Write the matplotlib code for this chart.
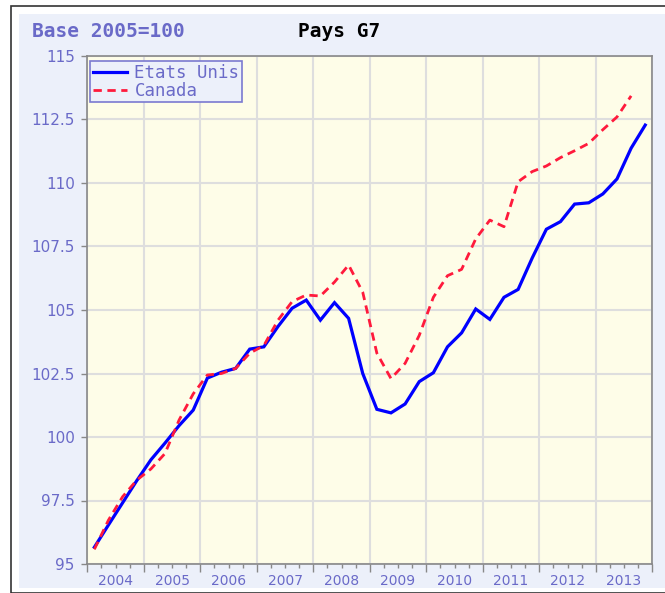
import matplotlib

matplotlib.use("Agg")
import matplotlib.pyplot as plt
from matplotlib.patches import Rectangle
from matplotlib.ticker import FixedLocator, FixedFormatter
import numpy as np

# quarterly index, base 2005=100
years = list(range(2004, 2014))
etats_unis = [
    95.66, 96.54, 97.41, 98.28,
    99.10, 99.76, 100.45, 101.06,
    102.32, 102.55, 102.70, 103.46,
    103.55, 104.35, 105.07, 105.39,
    104.60, 105.29, 104.67, 102.50,
    101.09, 100.95, 101.30, 102.18,
    102.53, 103.55, 104.10, 105.04,
    104.63, 105.50, 105.81, 107.05,
    108.18, 108.48, 109.17, 109.22,
    109.57, 110.16, 111.37, 112.28,
]
canada = [
    95.58, 96.73, 97.65, 98.30,
    98.74, 99.35, 100.67, 101.70,
    102.44, 102.50, 102.70, 103.30,
    103.60, 104.60, 105.33, 105.59,
    105.55, 106.10, 106.77, 105.70,
    103.30, 102.30, 102.90, 104.00,
    105.50, 106.35, 106.60, 107.80,
    108.54, 108.28, 110.05, 110.45,
    110.67, 111.00, 111.27, 111.56,
    112.10, 112.60, 113.43,
]
y_ticks = [95, 97.5, 100, 102.5, 105, 107.5, 110, 112.5, 115]
y_tick_labels = ["95", "97.5", "100", "102.5", "105", "107.5", "110", "112.5", "115"]

LABEL = "#6A6AC8"
PANEL = "#ECF0FA"
PLOT_BG = "#FEFDE8"
GRID = "#DEDEDE"

# x position of each quarter: middle of the quarter
x_us = [years[0] + (i + 0.5) / 4 for i in range(len(etats_unis))]
x_ca = [years[0] + (i + 0.5) / 4 for i in range(len(canada))]

fig = plt.figure(figsize=(6.65, 5.93), dpi=100)
fig.patch.set_facecolor("white")
W, H = 665.0, 593.0

# outer frame and light panel (behind the axes)
fig.patches.append(Rectangle((11 / W, 0), 1, 1 - 6 / H, transform=fig.transFigure,
                             facecolor="none", edgecolor="#333333", lw=1.2,
                             zorder=-2))
fig.patches.append(Rectangle((19 / W, 1 - 588 / H), 1, (588 - 14) / H,
                             transform=fig.transFigure, facecolor=PANEL,
                             edgecolor="none", zorder=-1))

left, right, top, bottom = 87.3, 652.3, 56.0, 564.0
ax = fig.add_axes([left / W, 1 - bottom / H, (right - left) / W, (bottom - top) / H])
ax.set_facecolor(PLOT_BG)

ax.plot(x_us, etats_unis, color="#0000FF", lw=2.3, label="Etats Unis",
        solid_joinstyle="miter")
ax.plot(x_ca, canada, color="#FF1A3C", lw=2.0, linestyle=(0, (3, 2)),
        label="Canada")

ax.set_xlim(years[0], years[-1] + 1)
ax.set_ylim(95, 115)

# year boundaries: major ticks + grid, quarters: minor ticks, labels mid-year
majors = list(range(years[0], years[-1] + 2))
minors = [y + q / 4 for y in years for q in (1, 2, 3)]
minor_labels = [str(int(m)) if abs(m % 1 - 0.5) < 1e-9 else "" for m in minors]
ax.xaxis.set_major_locator(FixedLocator(majors))
ax.xaxis.set_major_formatter(FixedFormatter([""] * len(majors)))
ax.xaxis.set_minor_locator(FixedLocator(minors))
ax.xaxis.set_minor_formatter(FixedFormatter(minor_labels))
ax.tick_params(axis="x", which="major", length=6, color="#888888", width=1)
ax.tick_params(axis="x", which="minor", length=3, color="#888888", width=1,
               labelsize=10, labelcolor=LABEL, pad=4)

ax.set_yticks(y_ticks)
ax.set_yticklabels(y_tick_labels)
ax.tick_params(axis="y", length=4, color="#888888", width=1, labelsize=11,
               labelcolor=LABEL, pad=5)

ax.grid(True, which="major", color=GRID, lw=1.5)
ax.set_axisbelow(True)
for s in ax.spines.values():
    s.set_color("#888888")
    s.set_linewidth(1.2)

fig.text(32 / W, 1 - 31.5 / H, "Base 2005=100", color=LABEL, fontsize=14,
         family="DejaVu Sans Mono", weight="bold", va="center", ha="left")
fig.text(298 / W, 1 - 31.5 / H, "Pays G7", color="black", fontsize=14,
         family="DejaVu Sans Mono", weight="bold", va="center", ha="left")

leg = ax.legend(loc="upper left", bbox_to_anchor=(0.005, 0.99), borderaxespad=0,
                borderpad=0.15, labelspacing=0.0, handlelength=2.0,
                handletextpad=0.4, fancybox=False, framealpha=1,
                prop={"family": "DejaVu Sans Mono", "size": 12.5})
leg.get_frame().set_edgecolor("#7A7AD0")
leg.get_frame().set_facecolor(PANEL)
leg.get_frame().set_linewidth(1.2)
for t in leg.get_texts():
    t.set_color(LABEL)

fig.savefig("out.png", dpi=100)
plt.close(fig)
